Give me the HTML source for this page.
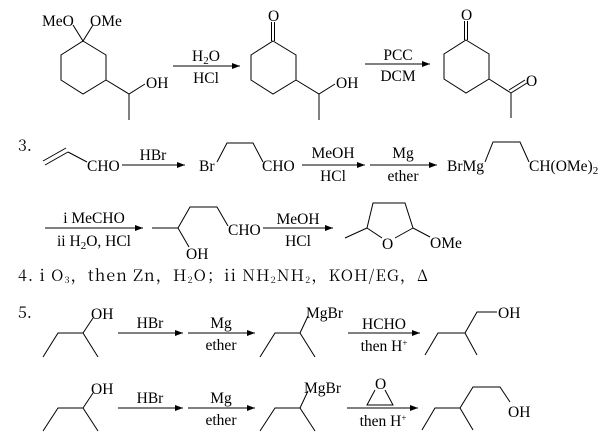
<!DOCTYPE html>
<html><head><meta charset="utf-8"><style>
html,body{margin:0;padding:0;background:#fff;}
svg{display:block;}
text{font-family:"Liberation Serif","Noto Serif CJK SC",serif;font-size:15.5px;fill:#000;}
.n{font-size:16px;font-family:"Noto Serif CJK SC","Liberation Serif",serif;}
</style></head><body>
<svg width="603" height="447" viewBox="0 0 603 447" xmlns="http://www.w3.org/2000/svg">
<defs><marker id="a" markerWidth="8" markerHeight="6" refX="8" refY="3" orient="auto" markerUnits="userSpaceOnUse"><path d="M0,0 L8,3 L0,6 Z" fill="#000"/></marker></defs>
<g stroke="#000" stroke-width="1" fill="none">
<polygon points="83,41 106,55 106,80 83,94 61,80 61,55"/>
<polyline points="73,25 83,41 93,25"/>
<polyline points="106,80 129,94 145,84"/><line x1="129" y1="94" x2="129" y2="120"/>
<line x1="173" y1="66" x2="240" y2="66" marker-end="url(#a)"/>
<polygon points="273,41 296,55 296,80 273,94 251,80 251,55"/>
<line x1="271.5" y1="41" x2="271.5" y2="22"/><line x1="274.5" y1="41" x2="274.5" y2="22"/>
<polyline points="296,80 319,94 335,84"/><line x1="319" y1="94" x2="319" y2="120"/>
<line x1="365" y1="64" x2="430" y2="64" marker-end="url(#a)"/>
<polygon points="466,40 489,54 489,79 466,93 444,79 444,54"/>
<line x1="464.5" y1="40" x2="464.5" y2="21"/><line x1="467.5" y1="40" x2="467.5" y2="21"/>
<line x1="489" y1="79" x2="511" y2="93"/><line x1="511" y1="118" x2="511" y2="93"/>
<line x1="511" y1="93" x2="527" y2="83"/><line x1="509" y1="90" x2="525" y2="80"/>
<line x1="45" y1="165" x2="68" y2="152"/><line x1="43" y1="161" x2="66" y2="148"/>
<line x1="68" y1="152" x2="87" y2="162"/>
<line x1="122" y1="165" x2="185" y2="165" marker-end="url(#a)"/>
<polyline points="217,162 227,143 253,143 263,162"/>
<line x1="302" y1="165" x2="365" y2="165" marker-end="url(#a)"/>
<line x1="370" y1="165" x2="437" y2="165" marker-end="url(#a)"/>
<polyline points="485,162 493,142 520,142 529,162"/>
<line x1="45" y1="228" x2="143" y2="228" marker-end="url(#a)"/>
<polyline points="152,228 178,228 190,207 217,207 228,226"/>
<line x1="178" y1="228" x2="189" y2="247"/>
<line x1="263" y1="228" x2="333" y2="228" marker-end="url(#a)"/>
<polyline points="345,238 367,228 373,203 405,203 413,228 430,237"/>
<line x1="367" y1="228" x2="382" y2="238"/><line x1="413" y1="228" x2="395" y2="238"/>
<polyline points="43,357 58,333 83,333 98,357"/><line x1="83" y1="333" x2="93" y2="318"/>
<line x1="118" y1="333" x2="183" y2="333" marker-end="url(#a)"/>
<line x1="188" y1="333" x2="255" y2="333" marker-end="url(#a)"/>
<polyline points="260,357 275,333 300,333 315,357"/><line x1="300" y1="333" x2="308" y2="316"/>
<line x1="348" y1="333" x2="420" y2="333" marker-end="url(#a)"/>
<polyline points="425,355 438,333 465,333 477,355"/><polyline points="465,333 477,312 497,312"/>
<polyline points="43,431 58,408 83,408 98,431"/><line x1="83" y1="408" x2="93" y2="393"/>
<line x1="118" y1="408" x2="183" y2="408" marker-end="url(#a)"/>
<line x1="188" y1="408" x2="255" y2="408" marker-end="url(#a)"/>
<polyline points="260,431 275,408 300,408 315,431"/><line x1="300" y1="408" x2="308" y2="391"/>
<polyline points="375,390 367,405 393,405 385,390"/>
<line x1="347" y1="408" x2="418" y2="408" marker-end="url(#a)"/>
<polyline points="422,430 435,408 460,408 473,387 500,387 510,402"/><line x1="460" y1="408" x2="473" y2="430"/>
</g>
<text x="42" y="26">MeO</text><text x="90" y="26">OMe</text>
<text x="146" y="88">OH</text>
<text x="206" y="61" text-anchor="middle">H<tspan font-size="11" dy="3">2</tspan><tspan dy="-3">O</tspan></text>
<text x="206" y="83" text-anchor="middle">HCl</text>
<text x="268" y="21">O</text><text x="336" y="88">OH</text>
<text x="398" y="60" text-anchor="middle">PCC</text><text x="398" y="81" text-anchor="middle">DCM</text>
<text x="461" y="20">O</text><text x="526" y="86">O</text>
<text class="n" x="18" y="151">3.</text>
<text x="87" y="171">CHO</text>
<text x="153" y="160" text-anchor="middle">HBr</text>
<text x="199" y="171">Br</text><text x="262" y="171">CHO</text>
<text x="333" y="158" text-anchor="middle">MeOH</text><text x="333" y="181" text-anchor="middle">HCl</text>
<text x="403" y="158" text-anchor="middle">Mg</text><text x="403" y="181" text-anchor="middle">ether</text>
<text x="447" y="171">BrMg</text>
<text x="529" y="171">CH(OMe)<tspan font-size="11" dy="3">2</tspan></text>
<text x="94" y="223" text-anchor="middle">i MeCHO</text>
<text x="94" y="246" text-anchor="middle">ii H<tspan font-size="11" dy="3">2</tspan><tspan dy="-3">O, HCl</tspan></text>
<text x="228" y="235">CHO</text><text x="186" y="259">OH</text>
<text x="298" y="224" text-anchor="middle">MeOH</text><text x="298" y="246" text-anchor="middle">HCl</text>
<text x="382" y="249">O</text><text x="430" y="248">OMe</text>
<text class="n" x="18" y="281" textLength="410" lengthAdjust="spacing">4. i O<tspan font-size="9" dy="2">3</tspan><tspan dy="-2">，then Zn，H</tspan><tspan font-size="9" dy="2">2</tspan><tspan dy="-2">O；ii NH</tspan><tspan font-size="9" dy="2">2</tspan><tspan dy="-2">NH</tspan><tspan font-size="9" dy="2">2</tspan><tspan dy="-2">，KOH/EG，Δ</tspan></text>
<text class="n" x="18" y="318">5.</text>
<text x="91" y="319">OH</text>
<text x="150" y="328" text-anchor="middle">HBr</text>
<text x="221" y="328" text-anchor="middle">Mg</text><text x="221" y="350" text-anchor="middle">ether</text>
<text x="306" y="318">MgBr</text>
<text x="384" y="329" text-anchor="middle">HCHO</text>
<text x="384" y="351" text-anchor="middle">then H<tspan font-size="9" dy="-5">+</tspan></text>
<text x="498" y="318">OH</text>
<text x="91" y="394">OH</text>
<text x="150" y="403" text-anchor="middle">HBr</text>
<text x="221" y="403" text-anchor="middle">Mg</text><text x="221" y="425" text-anchor="middle">ether</text>
<text x="304" y="393">MgBr</text>
<text x="375" y="389">O</text>
<text x="383" y="426" text-anchor="middle">then H<tspan font-size="9" dy="-5">+</tspan></text>
<text x="508" y="417">OH</text>
</svg>
</body></html>
